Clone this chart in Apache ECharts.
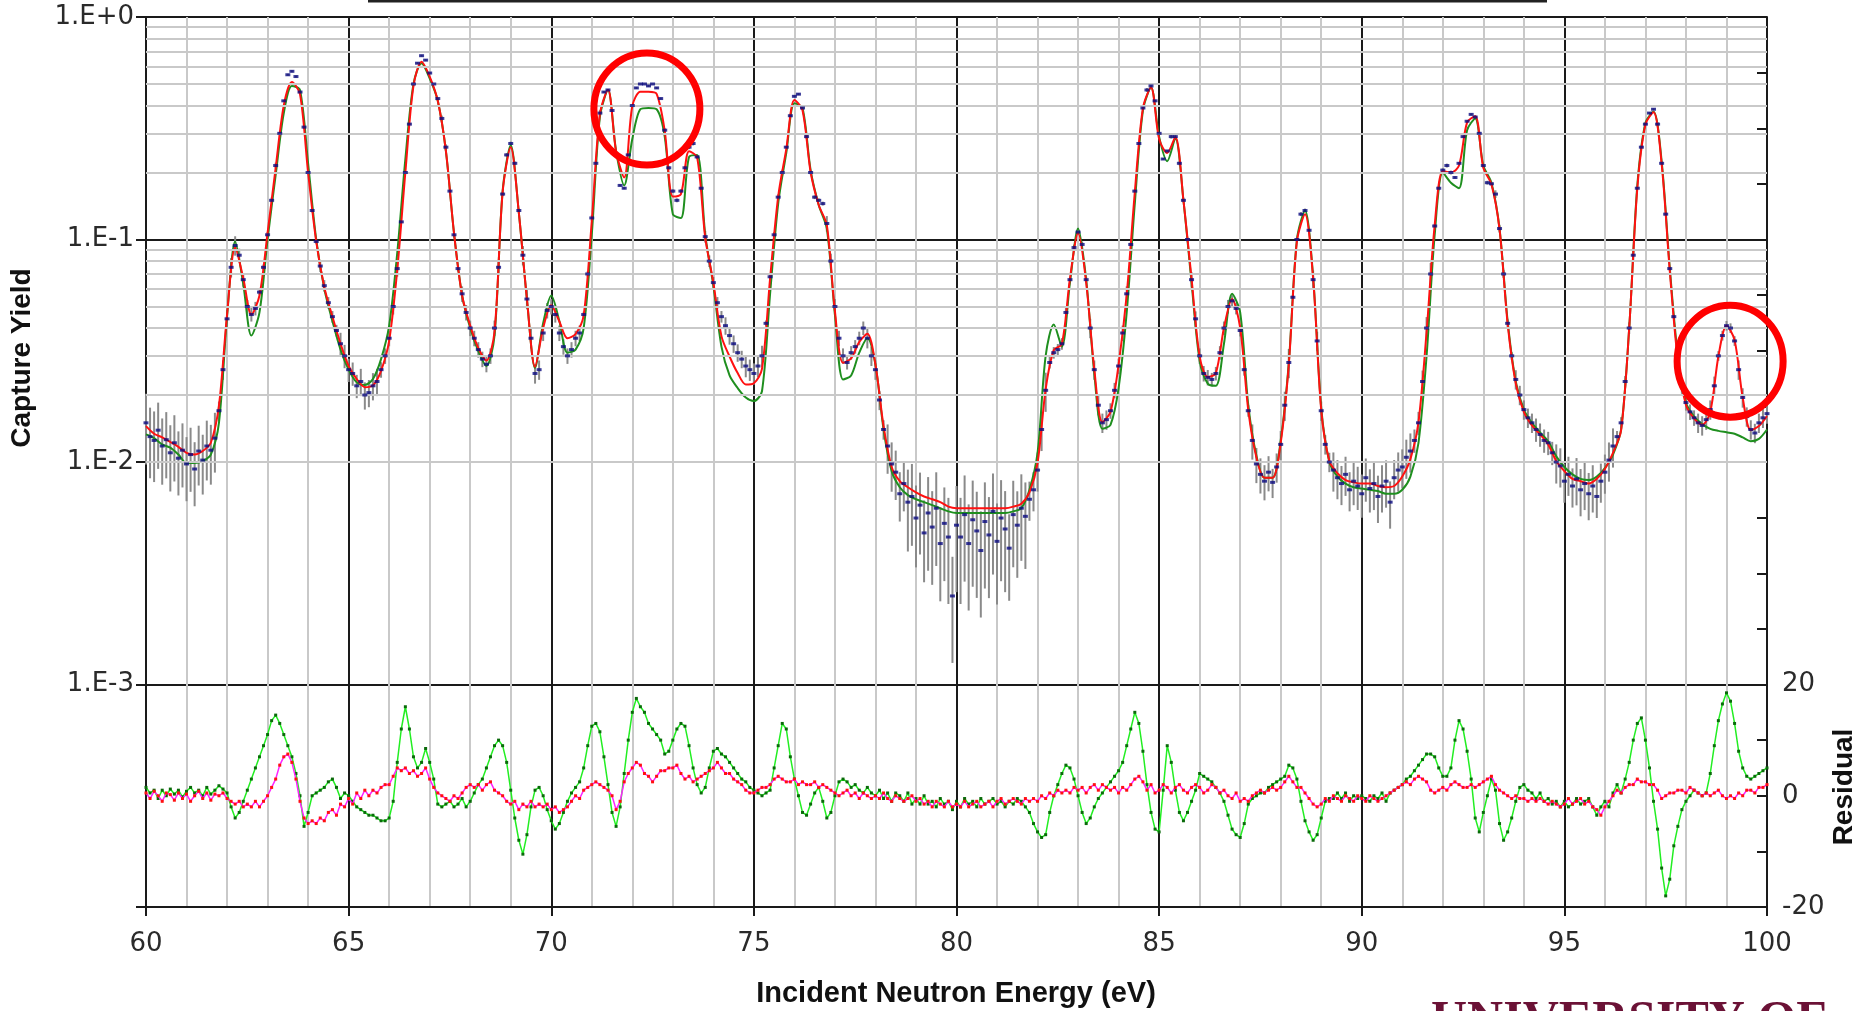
<!DOCTYPE html>
<html><head><meta charset="utf-8">
<style>html,body{margin:0;padding:0;background:#fff}#c{width:1862px;height:1011px}</style>
<script src="https://cdn.jsdelivr.net/npm/echarts@6/dist/echarts.min.js"></script>
</head><body><div id="c"></div>
<script>
// ---- energy grids (eV) ----
const E_START = 60;
const FIT_STEP = 0.2;   // fitted curves sampled every 0.2 eV
const DATA_STEP = 0.1;  // measured points / residuals every 0.1 eV
const ERR_STEP = 0.5;   // relative uncertainty given per 0.5 eV bin

const xTickLabels = ['60','65','70','75','80','85','90','95','100'];
const residTickLabels = ['-20','0','20'];

// highlighted regions (energy eV, yield) marked with red ellipses
const highlightE = [72.36, 99.09];
const highlightY = [0.386, 0.0284];

// ---- fit (red), 60.0 .. 100.0 step 0.2 ----
const fitRed = [
0.0145,0.0134,0.0129,0.0123,0.0117,0.0110,0.0108,0.0112,0.0122,0.0179,
0.046,0.092,0.067,0.046,0.056,0.107,0.21,0.40,0.51,0.45,
0.20,0.098,0.061,0.045,0.034,0.027,0.0236,0.0217,0.0221,0.0257,
0.035,0.073,0.20,0.49,0.63,0.54,0.42,0.25,0.107,0.056,
0.041,0.0325,0.0286,0.0385,0.163,0.26,0.132,0.054,0.0268,0.040,
0.0507,0.0428,0.036,0.0376,0.0456,0.121,0.366,0.471,0.249,0.19,
0.398,0.461,0.461,0.451,0.308,0.156,0.16,0.249,0.234,0.102,
0.064,0.0368,0.0298,0.0251,0.0223,0.0226,0.0262,0.0668,0.156,0.255,
0.424,0.381,0.201,0.143,0.116,0.0476,0.0279,0.0292,0.0346,0.0377,
0.0274,0.0145,0.0095,0.0082,0.0077,0.0073,0.0070,0.0068,0.0066,0.0063,
0.0062,0.0062,0.0062,0.0062,0.0062,0.0062,0.0062,0.0063,0.0065,0.0073,
0.0099,0.0212,0.0318,0.0339,0.0668,0.107,0.064,0.0262,0.0151,0.0168,
0.0274,0.0564,0.163,0.389,0.482,0.283,0.245,0.289,0.15,0.0668,
0.0298,0.0241,0.0251,0.0401,0.054,0.0401,0.0171,0.0105,0.0085,0.0085,
0.0122,0.0274,0.098,0.13,0.0668,0.0171,0.0101,0.0089,0.0083,0.0081,
0.0080,0.0080,0.0078,0.0077,0.0078,0.0086,0.0103,0.0151,0.0385,0.116,
0.203,0.200,0.215,0.336,0.358,0.21,0.177,0.111,0.0418,0.0226,
0.0168,0.0146,0.0133,0.0120,0.0101,0.0091,0.0084,0.0082,0.0080,0.0084,
0.0093,0.0110,0.0139,0.0401,0.17,0.329,0.373,0.219,0.0727,0.0286,
0.0181,0.0157,0.0147,0.0168,0.0298,0.041,0.0353,0.0195,0.0139,0.0145,
0.0161];

// ---- fit (green), 60.0 .. 100.0 step 0.2 ----
const fitGreen = [
0.0133,0.0128,0.0120,0.0116,0.0108,0.0099,0.0099,0.0101,0.0108,0.0150,
0.045,0.098,0.063,0.037,0.047,0.100,0.195,0.37,0.49,0.47,
0.22,0.10,0.060,0.043,0.032,0.0260,0.0228,0.0222,0.0236,0.029,
0.041,0.087,0.23,0.50,0.62,0.53,0.42,0.25,0.107,0.056,
0.040,0.0315,0.0270,0.037,0.165,0.265,0.132,0.054,0.0265,0.042,
0.056,0.043,0.031,0.032,0.040,0.105,0.355,0.47,0.25,0.175,
0.283,0.385,0.39,0.385,0.29,0.13,0.125,0.235,0.24,0.105,
0.062,0.033,0.0245,0.0215,0.0195,0.0188,0.0208,0.057,0.145,0.245,
0.41,0.39,0.205,0.143,0.112,0.046,0.0235,0.0245,0.0310,0.036,
0.0274,0.0140,0.0091,0.0077,0.0071,0.0068,0.0066,0.0064,0.0062,0.0060,
0.0059,0.0059,0.0059,0.0059,0.0059,0.0059,0.0059,0.0060,0.0062,0.0075,
0.0110,0.030,0.0415,0.033,0.064,0.112,0.066,0.025,0.0141,0.0147,
0.0215,0.047,0.145,0.38,0.482,0.29,0.225,0.285,0.15,0.064,
0.0285,0.0225,0.0220,0.0340,0.057,0.047,0.018,0.0107,0.0085,0.0085,
0.0125,0.0280,0.100,0.135,0.068,0.0175,0.0100,0.0086,0.0080,0.0077,
0.0076,0.0075,0.0074,0.0072,0.0072,0.0075,0.0086,0.0122,0.030,0.105,
0.200,0.180,0.170,0.310,0.350,0.215,0.180,0.112,0.043,0.023,
0.0172,0.0150,0.0136,0.0124,0.0106,0.0095,0.0088,0.0084,0.0083,0.0086,
0.0094,0.0108,0.0140,0.040,0.175,0.335,0.375,0.225,0.075,0.030,
0.0185,0.0160,0.0148,0.0141,0.0138,0.0136,0.0134,0.0129,0.0124,0.0127,
0.0140];

// ---- measured capture yield, 60.0 .. 100.0 step 0.1 ----
const dataYield = [
0.0150,0.0130,0.0125,0.0139,0.0118,0.0126,0.0110,0.0122,0.0104,0.0113,
0.0098,0.0108,0.0093,0.0112,0.0102,0.0118,0.0113,0.0128,0.0170,0.0260,
0.044,0.075,0.094,0.085,0.066,0.050,0.046,0.049,0.058,0.075,
0.105,0.150,0.215,0.30,0.42,0.55,0.57,0.54,0.46,0.32,
0.20,0.135,0.098,0.076,0.062,0.052,0.045,0.039,0.034,0.030,
0.026,0.025,0.022,0.023,0.020,0.0205,0.022,0.023,0.026,0.030,
0.036,0.050,0.074,0.12,0.20,0.33,0.50,0.62,0.67,0.64,
0.56,0.50,0.43,0.35,0.26,0.165,0.105,0.074,0.057,0.047,
0.040,0.036,0.032,0.029,0.0275,0.030,0.040,0.075,0.160,0.24,
0.27,0.22,0.135,0.085,0.054,0.036,0.025,0.026,0.038,0.048,
0.050,0.046,0.038,0.033,0.030,0.032,0.036,0.038,0.046,0.070,
0.125,0.22,0.37,0.46,0.47,0.38,0.24,0.175,0.17,0.24,
0.40,0.48,0.50,0.50,0.49,0.50,0.48,0.43,0.31,0.21,
0.165,0.15,0.165,0.21,0.26,0.27,0.235,0.17,0.103,0.080,
0.064,0.052,0.045,0.041,0.037,0.034,0.031,0.029,0.027,0.026,
0.025,0.027,0.030,0.042,0.068,0.105,0.155,0.20,0.26,0.36,
0.44,0.45,0.39,0.29,0.20,0.155,0.150,0.145,0.118,0.080,
0.050,0.036,0.030,0.028,0.031,0.033,0.036,0.040,0.036,0.030,
0.026,0.019,0.0140,0.0118,0.0098,0.0090,0.0072,0.0080,0.0066,0.0070,
0.0056,0.0064,0.0048,0.0059,0.0051,0.0062,0.0043,0.0053,0.0046,0.0025,
0.0052,0.0046,0.0058,0.0043,0.0055,0.0049,0.0040,0.0054,0.0047,0.0060,
0.0044,0.0056,0.0050,0.0041,0.0058,0.0052,0.0062,0.0057,0.0068,0.0075,
0.0092,0.0140,0.0210,0.028,0.031,0.032,0.034,0.047,0.066,0.092,
0.108,0.095,0.066,0.040,0.026,0.018,0.0150,0.0155,0.0170,0.021,
0.027,0.038,0.057,0.095,0.165,0.27,0.39,0.47,0.49,0.42,
0.30,0.23,0.25,0.29,0.29,0.22,0.150,0.100,0.066,0.044,
0.030,0.025,0.024,0.0235,0.025,0.031,0.040,0.050,0.053,0.049,
0.039,0.026,0.017,0.0125,0.0098,0.0088,0.0082,0.0090,0.0081,0.0095,
0.0120,0.0180,0.028,0.055,0.100,0.130,0.135,0.110,0.066,0.035,
0.0170,0.0120,0.0100,0.0092,0.0085,0.0080,0.0088,0.0075,0.0082,0.0078,
0.0072,0.0085,0.0076,0.0080,0.0070,0.0078,0.0082,0.0066,0.0085,0.0092,
0.0095,0.0105,0.0112,0.0125,0.0150,0.0230,0.040,0.070,0.115,0.170,
0.205,0.215,0.200,0.190,0.220,0.290,0.340,0.365,0.355,0.300,
0.215,0.180,0.178,0.160,0.112,0.070,0.042,0.030,0.0235,0.0200,
0.0172,0.0158,0.0150,0.0140,0.0133,0.0125,0.0122,0.0110,0.0100,0.0096,
0.0082,0.0088,0.0078,0.0084,0.0075,0.0080,0.0072,0.0078,0.0070,0.0082,
0.0090,0.0102,0.0118,0.0130,0.0150,0.0230,0.040,0.085,0.170,0.260,
0.330,0.370,0.385,0.330,0.220,0.130,0.074,0.045,0.030,0.022,
0.0185,0.0168,0.0158,0.0150,0.0146,0.0155,0.0172,0.0220,0.030,0.037,
0.041,0.040,0.035,0.026,0.0195,0.0160,0.0140,0.0135,0.0150,0.0158,
0.0165];

// ---- relative uncertainty of the yield, per 0.5 eV bin (60.0 .. 100.0) ----
const relErr = [
0.35,0.33,0.32,0.30,0.10,0.07,0.03,0.01,0.02,0.06,
0.12,0.14,0.08,0.01,0.01,0.03,0.08,0.08,0.02,0.10,
0.08,0.08,0.03,0.01,0.01,0.01,0.02,0.02,0.06,0.09,
0.11,0.03,0.01,0.02,0.08,0.07,0.10,0.25,0.40,0.45,
0.50,0.50,0.48,0.42,0.20,0.06,0.03,0.10,0.08,0.02,
0.01,0.02,0.08,0.07,0.06,0.18,0.15,0.02,0.10,0.20,
0.22,0.24,0.20,0.12,0.02,0.01,0.02,0.04,0.10,0.12,
0.20,0.24,0.20,0.06,0.01,0.02,0.08,0.10,0.05,0.10,
0.10];

// ---- residuals (green fit), 60.0 .. 100.0 step 0.1 ----
const residGreen = [
1.5,0.5,1,-0.5,1,0,1.2,0.3,1,-0.2,
0.8,1.5,0.5,1,0,1.5,0.3,1,1.8,1.2,
0.5,-2,-4,-3,-1,1,3,5,7,9,
11,13.5,14.5,13,11,9,7,4,0,-5.5,
-3,0,0.5,1,1.5,2.5,3,1.5,-0.5,0.5,
0,-1,-2,-2.5,-3,-3.5,-3.5,-4,-4.5,-4.5,
-4,-1,6,12,16,12,7,5,6,8.5,
6,3,-1.5,-2,-1.5,-1,-2,-1.5,-0.5,-2,
-1,0.5,2,3,5,7,9,10,9,6,
1,-4,-8,-10.5,-7,-2,1,1.5,0,-2.5,
-4.5,-6,-5,-3,-1,0.5,1.5,2.5,5,9,
12.5,13,11.5,7,2,-3,-5.5,-2,4,10,
15,17.5,16,15,13,12,11,10,7.5,8,
10,12,13,12.5,9,5,2,0.5,1.5,5,
8,8.5,7.5,7,6,5,4,3,2.5,1.5,
1,0.5,0,0.5,1,5,9,13,12,7,
3,0,-3,-3.5,-1.5,0.5,1.5,-1,-4,-3,
0,2.5,3,2.5,1.5,2,1,0.5,1.5,0.5,
0,1,-0.5,0.5,-1,0.5,0,-1,0.5,-1.5,
-0.5,-1.5,0,-1.5,-1,-2,-0.5,-1.5,-1,-2.5,
-1,-2,-0.5,-1.5,-1,-2,-0.5,-1.5,-1,-0.5,
-1.5,-1,-2,-1,-1.5,-0.5,-1,-2,-3,-5,
-6.5,-7.5,-7,-3,0,2,4,5.5,5,3,
0,-3,-5,-4,-2,-0.5,0.5,1.5,2.5,3.5,
4.5,6,9,12,15,13,8,2,-3,-6,
-6.5,1,9,6,1,-3,-4.5,-3,-1,1,
4,3.5,3,2.5,1.5,0.5,-1,-3.5,-6,-7,
-7.5,-5,-1.5,-0.5,0,0.5,0.5,1.5,2,2.5,
3,3.5,5.5,5,3,-1,-4.5,-6.5,-8,-7,
-4,-1,-0.5,-0.5,0.5,-0.5,0.5,-1,0,-0.5,
0,-0.5,-1,0,-0.5,0.5,-1,0.5,1,1.5,
2,3,3.5,4.5,5.5,6.5,7.5,7.5,7,5,
3.5,3.5,5,10,13.5,12,8,3,-4,-6.5,
-3,0,3,1,-5,-8,-6.5,-4,-1,1.5,
2,1,0.5,-0.5,0.5,-1,-0.5,-1.5,-1,-2,
-1,-2,-1.5,-0.5,-1.5,-1,-0.5,-2,-3.5,-2,
-1,-2,0.5,2,0.5,3,6,10,13,14,
10,5,-1,-6,-13,-18,-15,-9,-5.5,-2.5,
-1,0,1,0.5,0,0.5,4,9,13.5,16.5,
18.5,17,13,8,5,3.5,3,3.5,4,4.5,
5];

// ---- residuals (red fit), 60.0 .. 100.0 step 0.1 ----
const residRed = [
0.5,-0.5,0.8,0,-1,0.5,0.2,-0.8,0.5,-0.5,
0.3,-1,0,0.8,-0.5,0.5,-0.8,0.3,0,0.5,
-0.5,-1,-1.5,-1,-2,-1.5,-2,-1,-2,-1,
0,1.5,3,5.5,7,7.5,6,3,-1,-4,
-5,-4.5,-5,-4,-4.5,-3,-2.5,-3.5,-1.5,-2,
-0.5,-1.5,0.5,-0.5,1,0,1,0.5,1.5,2,
2,3.5,5,4.5,5,4,4.5,3.5,4,5,
3,1.5,0.5,0,-0.5,-1,0,-0.5,0.5,1.5,
2,1.5,2,1,2,2.5,1,0.5,0,-1,
-1.5,-1,-2.5,-1.5,-2,-1,-2,-1.5,-2,-1.5,
-2.5,-2,-3,-2.5,-2,-1,0,-0.5,1,1.5,
2,2.5,2,1.5,1,0,-2.5,-1,2.5,4,
5,6,5.5,4,3.5,2.5,3.5,4.5,4.5,5,
5,5.5,4,3,3.5,2.5,3,3.5,4,4.5,
5,6,5,4,4,3,2.5,2,1,0.5,
0.5,1,1.5,1.5,2,3,3.5,3,2.5,2.5,
3,2,2.5,2,2,2.5,1.5,2,1.5,1,
0.5,0,0.5,1,0,0.5,-0.5,0.5,0,-0.5,
0,-0.5,0.5,-0.5,-1,0,-0.5,-1,-0.5,0,
-1,-0.5,-1.5,-1,-2,-1,-1.5,-2,-1,-2,
-1.5,-2,-1,-2,-1.5,-1,-2,-1.5,-1,-2,
-1,-0.5,-1.5,-1,-0.5,-1,-1.5,-0.5,-1,-0.5,
-1,0,-0.5,0.5,0,1,0.5,1,0.5,1.5,
1,1.5,0.5,1.5,2,1,2,1.5,1,1.5,
0.5,1.5,1,2,3,3.5,2.5,1,2,0.5,
1,2,1.5,0.5,1.5,2,1,0.5,1.5,2,
1.5,0.5,1,2,1.5,0.5,1,0,-0.5,0.5,
-1,-0.5,-1,0,0.5,1,0.5,1,1.5,1,
1.5,2.5,3.5,2.5,1.5,1.5,0.5,-0.5,-1.5,-2,
-1.5,-0.5,-1,0,-0.5,-1,0,-0.5,-1,0,
-0.5,-1,0,-0.5,-1,-0.5,0,0.5,1,1.5,
2,2.5,2,3,3.5,3,2.5,1,0.5,1,
1.5,1,2,2.5,2,1.5,1.5,2,1.5,2,
2.5,3,3.5,2,1,0.5,0,-0.5,0,-0.5,
-0.5,-1,-0.5,-1,-0.5,-1,-1.5,-1,-1.5,-2,
-1.5,-0.5,-1.5,-1,-0.5,-1.5,-1,-2,-2.5,-3.5,
-2,-1,0,1,0.5,1.5,2,2,3,2.5,
2.5,2,2,1,-0.5,0,0.5,0.5,1,1,
0.5,1.5,1,0.5,0,0.5,0,0.5,1,0,
-0.5,0,-0.5,0.5,0,1,1,0.5,1.5,1.5,
2];

// ---------------- build ----------------
const eAt = (i, step) => +(E_START + i * step).toFixed(2);
const redPts = fitRed.map((y, i) => [eAt(i, FIT_STEP), y]);
const greenPts = fitGreen.map((y, i) => [eAt(i, FIT_STEP), y]);
const dataPts = dataYield.map((y, i) => [eAt(i, DATA_STEP), y]);
const errPts = dataYield.map((y, i) => {
  const r = relErr[Math.min(relErr.length - 1, Math.round(i * DATA_STEP / ERR_STEP))];
  return [eAt(i, DATA_STEP), y, y * (1 - r), y * (1 + r)];
});
const resGPts = residGreen.map((v, i) => [eAt(i, DATA_STEP), v]);
const resRPts = residRed.map((v, i) => [eAt(i, DATA_STEP), v]);

// log minor grid values (2..9 x decade)
const minorY = [];
for (let d = -4; d < 0; d++) for (let k = 2; k <= 9; k++) minorY.push(+(k * Math.pow(10, d)).toPrecision(3));

const FONT = '"Liberation Sans", Arial, sans-serif';
const TICKFONT = '"DejaVu Sans", sans-serif';
const chart = echarts.init(document.getElementById('c'), null, { renderer: 'canvas' });

chart.setOption({
  animation: false,
  backgroundColor: '#ffffff',
  grid: { left: 146, top: 17, width: 1621, height: 890, containLabel: false },
  xAxis: {
    type: 'value', min: 60, max: 100, interval: 5,
    axisLine: { show: true, onZero: false, lineStyle: { color: '#1a1a1a', width: 2 } },
    axisTick: { show: true, inside: false, length: 9, lineStyle: { color: '#1a1a1a', width: 2 } },
    axisLabel: { fontSize: 26, color: '#2a2a2a', fontFamily: TICKFONT, margin: 24,
      formatter: v => xTickLabels.includes(String(v)) ? String(v) : '' },
    splitLine: { show: true, lineStyle: { color: '#1a1a1a', width: 2 } },
    minorTick: { show: false, splitNumber: 5 },
    minorSplitLine: { show: true, lineStyle: { color: '#c9c9c9', width: 2 } }
  },
  yAxis: [
    {
      type: 'log', logBase: 10, min: 0.0001, max: 1, position: 'left',
      axisLine: { show: true, lineStyle: { color: '#1a1a1a', width: 2 } },
      axisTick: { show: true, inside: false, length: 10, lineStyle: { color: '#1a1a1a', width: 2 } },
      axisLabel: { fontSize: 26, color: '#2a2a2a', fontFamily: TICKFONT, margin: 12,
        formatter: v => { const e = Math.round(Math.log10(v)); if (e <= -4) return ''; return '1.E' + (e >= 0 ? '+' : '') + e; } },
      splitLine: { show: true, lineStyle: { color: '#1a1a1a', width: 2 } }
    },
    {
      type: 'value', min: -20, max: 140, interval: 10, position: 'right',
      axisLine: { show: true, onZero: false, lineStyle: { color: '#1a1a1a', width: 2 } },
      axisTick: { show: true, inside: true, length: 10, lineStyle: { color: '#1a1a1a', width: 2 } },
      axisLabel: { fontSize: 26, color: '#2a2a2a', fontFamily: TICKFONT, margin: 15,
        formatter: v => residTickLabels.includes(String(v)) ? String(v) : '' },
      splitLine: { show: false }
    }
  ],
  series: [
    { // minor horizontal log grid
      type: 'line', data: [], yAxisIndex: 0, z: -1, silent: true,
      markLine: { silent: true, symbol: ['none', 'none'], label: { show: false }, animation: false,
        lineStyle: { color: '#c9c9c9', width: 2, type: 'solid' },
        emphasis: { disabled: true },
        data: minorY.map(v => ({ yAxis: v })) }
    },
    { // error bars
      type: 'custom', yAxisIndex: 0, z: 2, silent: true,
      data: errPts, encode: { x: 0, y: [1, 2, 3] },
      renderItem: (params, api) => {
        const a = api.coord([api.value(0), api.value(2)]);
        const b = api.coord([api.value(0), api.value(3)]);
        return { type: 'line', shape: { x1: a[0], y1: a[1], x2: b[0], y2: b[1] },
          style: { stroke: '#8a8a8a', lineWidth: 2 } };
      }
    },
    { type: 'line', name: 'fit green', data: greenPts, yAxisIndex: 0, z: 3, showSymbol: false, smooth: 0.3,
      lineStyle: { color: '#1f8f1f', width: 2 }, silent: true },
    { type: 'line', name: 'fit red', data: redPts, yAxisIndex: 0, z: 4, showSymbol: false, smooth: 0.3,
      lineStyle: { color: '#ff1111', width: 2 }, silent: true },
    { type: 'scatter', name: 'data', data: dataPts, yAxisIndex: 0, z: 5, symbol: 'rect', symbolSize: [5, 3],
      itemStyle: { color: '#0a0a80' }, silent: true },
    { type: 'line', name: 'residual green', data: resGPts, yAxisIndex: 1, z: 6, showSymbol: true, showAllSymbol: true,
      symbol: 'rect', symbolSize: 3, itemStyle: { color: '#0a6a0a' }, lineStyle: { color: '#22ee22', width: 1.5 }, silent: true },
    { type: 'line', name: 'residual red', data: resRPts, yAxisIndex: 1, z: 7, showSymbol: true, showAllSymbol: true,
      symbol: 'rect', symbolSize: 3, itemStyle: { color: '#ff1010' }, lineStyle: { color: '#ff22ff', width: 1.5 }, silent: true }
  ],
  graphic: [
    { id: 'topline', type: 'line', shape: { x1: 368, y1: 1, x2: 1547, y2: 1 }, style: { stroke: '#222', lineWidth: 3 }, silent: true },
    { id: 'ytitle', type: 'text', x: 22, y: 358, rotation: Math.PI / 2, silent: true,
      style: { text: 'Capture Yield', font: 'bold 28px ' + FONT, fill: '#111', align: 'center', verticalAlign: 'middle' } },
    { id: 'rtitle', type: 'text', x: 1844, y: 787, rotation: Math.PI / 2, silent: true,
      style: { text: 'Residual', font: 'bold 28px ' + FONT, fill: '#111', align: 'center', verticalAlign: 'middle' } },
    { id: 'xtitle', type: 'text', x: 956, y: 994, silent: true,
      style: { text: 'Incident Neutron Energy (eV)', font: 'bold 29px ' + FONT, fill: '#111', align: 'center', verticalAlign: 'middle' } },
    { id: 'logo', type: 'text', x: 1431, y: 997, silent: true,
      style: { text: 'UNIVERSITY OF', font: 'bold 50px "Liberation Serif", "DejaVu Serif", serif', fill: '#6b1236', align: 'left', verticalAlign: 'top' } }
  ]
});

// red highlight ellipses anchored to data coordinates
const ellipses = highlightE.map((e, i) => {
  const p = chart.convertToPixel({ xAxisIndex: 0, yAxisIndex: 0 }, [e, highlightY[i]]);
  return { id: 'hl' + i, type: 'ellipse', z: 100, silent: true,
    shape: { cx: p[0], cy: p[1], rx: 53, ry: 56 },
    style: { fill: 'none', stroke: '#ff0000', lineWidth: 7 } };
});
chart.setOption({ graphic: ellipses });
</script>
</body></html>
